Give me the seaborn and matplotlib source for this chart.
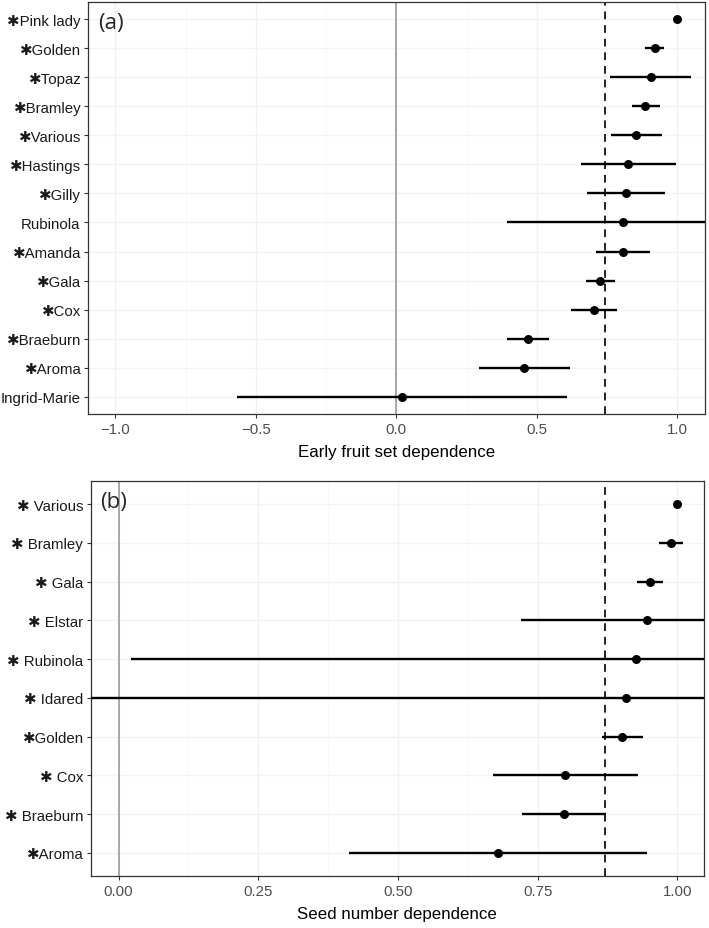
import matplotlib.pyplot as plt
import seaborn as sns
import numpy as np
import pandas as pd

# panel (a): early fruit set dependence
cult_a = ["✱Pink lady", "✱Golden", "✱Topaz", "✱Bramley", "✱Various", "✱Hastings",
          "✱Gilly", "Rubinola", "✱Amanda", "✱Gala", "✱Cox", "✱Braeburn",
          "✱Aroma", "Ingrid-Marie"]
est_a = [1.00, 0.92, 0.905, 0.887, 0.853, 0.825, 0.819, 0.807, 0.806, 0.725, 0.704,
         0.469, 0.456, 0.019]
lo_a = [1.00, 0.887, 0.762, 0.839, 0.765, 0.656, 0.680, 0.394, 0.712, 0.674, 0.622,
        0.393, 0.296, -0.569]
hi_a = [1.00, 0.953, 1.048, 0.937, 0.945, 0.996, 0.958, 1.25, 0.903, 0.779, 0.784,
        0.545, 0.618, 0.606]
mean_a = 0.742

# panel (b): seed number dependence
cult_b = ["✱ Various", "✱ Bramley", "✱ Gala", "✱ Elstar", "✱ Rubinola", "✱ Idared",
          "✱Golden", "✱ Cox", "✱ Braeburn", "✱Aroma"]
est_b = [1.00, 0.988, 0.951, 0.946, 0.927, 0.908, 0.902, 0.799, 0.797, 0.680]
lo_b = [1.00, 0.967, 0.928, 0.720, 0.022, -0.10, 0.866, 0.670, 0.722, 0.413]
hi_b = [1.00, 1.011, 0.974, 1.10, 1.10, 1.10, 0.939, 0.929, 0.872, 0.946]
mean_b = 0.871

sns.set_theme(style="white")
plt.rcParams['font.family'] = ['Liberation Sans', 'DejaVu Sans']


def forest(ax, names, est, lo, hi, mean, xlim, ticks, ticklabels, xlabel, tag):
    df = pd.DataFrame({"name": names, "est": est, "lo": lo, "hi": hi})
    df["pos"] = np.arange(len(df))[::-1]

    minor = (np.array(ticks[:-1]) + np.array(ticks[1:])) / 2
    for m in minor:
        ax.axvline(m, color="#F7F7F7", lw=0.6, zorder=0)
    for t in ticks:
        ax.axvline(t, color="#F1F1F1", lw=1.0, zorder=0)
    for p in df["pos"]:
        ax.axhline(p, color="#F3F3F3", lw=1.0, zorder=0)

    ax.axvline(0, color="#9A9A9A", lw=1.2, zorder=1)
    ax.axvline(mean, color="#222222", lw=1.4, ls=(0, (4, 3)), zorder=2)
    ax.hlines(df["pos"], df["lo"], df["hi"], color="black", lw=1.7, zorder=3)
    sns.scatterplot(data=df, x="est", y="pos", ax=ax, color="black", s=42,
                    edgecolor="black", linewidth=0, zorder=4)

    ax.set_xlim(*xlim)
    ax.set_ylim(-0.6, len(df) - 0.4)
    ax.set_yticks(df["pos"])
    ax.set_yticklabels(df["name"], fontsize=10.8, color="#1A1A1A")
    ax.set_xticks(ticks)
    ax.set_xticklabels(ticklabels, fontsize=10.8, color="#4D4D4D")
    ax.set_xlabel(xlabel, fontsize=12.2, color="black", labelpad=6)
    ax.set_ylabel("")
    ax.tick_params(axis="both", length=3, width=0.8, color="#333333",
                   left=True, bottom=True, pad=2.5)
    for s in ax.spines.values():
        s.set_color("#333333")
        s.set_linewidth(0.9)
    ax.text(0.016, 0.975, tag, transform=ax.transAxes, fontsize=16,
            ha="left", va="top", family=["Open Sans", "DejaVu Sans"])


fig = plt.figure(figsize=(7.09, 9.29), dpi=100)
ax1 = fig.add_axes([0.124, 0.5533, 0.870, 0.4435])
ax2 = fig.add_axes([0.128, 0.056, 0.865, 0.4252])

forest(ax1, cult_a, est_a, lo_a, hi_a, mean_a, (-1.098, 1.098),
       [-1.0, -0.5, 0.0, 0.5, 1.0], ["−1.0", "−0.5", "0.0", "0.5", "1.0"],
       "Early fruit set dependence", "(a)")
forest(ax2, cult_b, est_b, lo_b, hi_b, mean_b, (-0.05, 1.048),
       [0.0, 0.25, 0.5, 0.75, 1.0], ["0.00", "0.25", "0.50", "0.75", "1.00"],
       "Seed number dependence", "(b)")

fig.savefig("out.png", dpi=100)
